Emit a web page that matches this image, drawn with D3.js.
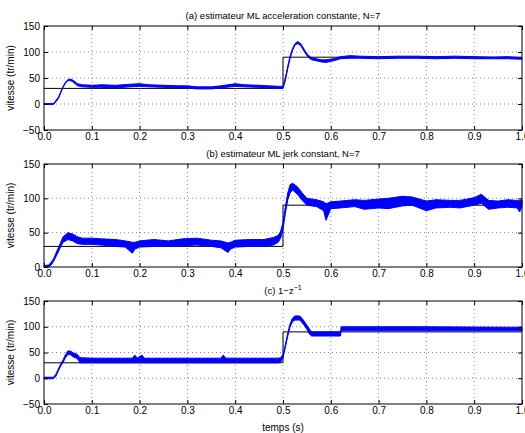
<!DOCTYPE html>
<html>
<head>
<meta charset="utf-8">
<script src="https://d3js.org/d3.v7.min.js"></script>
<style>
  body { margin: 0; background: #fff; }
  text { font-family: "Liberation Sans", Arial, sans-serif; fill: #000; }
  .grid line { stroke: #888; stroke-dasharray: 1,3; stroke-width: 1; }
  .tick text { font-size: 10px; }
</style>
</head>
<body>
<div id="chartDiv"></div>
<script>
// reference speed (consigne)
var refT = [0, 0.5, 0.5, 1];
var refV = [30, 30, 90, 90];

// (a) ML constant acceleration : time, lower and upper edge of the noisy trace
var tA  = [0, 0.02, 0.03, 0.04, 0.045, 0.05, 0.055, 0.06, 0.065, 0.07, 0.08, 0.1, 0.12, 0.15, 0.18, 0.2, 0.22, 0.25, 0.28, 0.3, 0.32, 0.35, 0.37, 0.4, 0.42, 0.45, 0.47, 0.49, 0.5, 0.505, 0.51, 0.515, 0.52, 0.525, 0.53, 0.535, 0.54, 0.545, 0.55, 0.555, 0.56, 0.57, 0.58, 0.59, 0.6, 0.61, 0.62, 0.64, 0.66, 0.7, 0.74, 0.78, 0.82, 0.86, 0.9, 0.94, 0.97, 1.0];
var loA = [-1, -1, 10, 32, 40, 45, 45, 43, 39, 35, 33, 32, 32, 31, 33, 34, 33, 32, 31, 31, 29, 29, 31, 34, 33, 32, 31, 30, 30, 45, 68, 88, 103, 113, 116, 114, 108, 100, 93, 88, 85, 83, 81, 80, 82, 84, 87, 88, 88, 87, 88, 88, 87, 88, 87, 87, 87, 86];
var hiA = [1, 1, 13, 34, 42, 47, 48, 46, 43, 39, 37, 36, 37, 36, 38, 39, 37, 36, 35, 35, 33, 33, 35, 39, 37, 36, 35, 34, 34, 51, 73, 93, 107, 116, 120, 118, 112, 104, 97, 92, 89, 87, 85, 85, 86, 88, 91, 93, 92, 91, 92, 92, 91, 92, 91, 90, 91, 89];

// (b) ML constant jerk
var tB  = [0, 0.01, 0.015, 0.02, 0.03, 0.035, 0.04, 0.05, 0.06, 0.07, 0.08, 0.1, 0.12, 0.15, 0.17, 0.185, 0.19, 0.2, 0.23, 0.26, 0.29, 0.32, 0.35, 0.37, 0.385, 0.39, 0.4, 0.43, 0.46, 0.48, 0.49, 0.495, 0.5, 0.505, 0.51, 0.515, 0.52, 0.53, 0.54, 0.55, 0.57, 0.585, 0.59, 0.6, 0.62, 0.65, 0.67, 0.7, 0.72, 0.75, 0.77, 0.8, 0.82, 0.85, 0.87, 0.9, 0.915, 0.93, 0.95, 0.97, 0.99, 0.995, 1.0];
var loB = [0, 0, 3, 8, 22, 30, 36, 40, 38, 34, 33, 33, 32, 30, 29, 20, 26, 29, 30, 30, 31, 32, 30, 28, 21, 26, 29, 30, 30, 32, 36, 42, 55, 78, 98, 108, 112, 106, 97, 90, 88, 82, 68, 85, 86, 88, 84, 86, 85, 89, 90, 82, 86, 87, 86, 90, 93, 84, 86, 87, 86, 80, 88];
var hiB = [2, 3, 7, 12, 28, 36, 44, 50, 48, 44, 42, 42, 41, 40, 38, 36, 36, 38, 40, 38, 41, 42, 39, 38, 35, 36, 39, 40, 40, 43, 46, 52, 65, 88, 108, 120, 122, 117, 108, 100, 98, 95, 92, 95, 96, 98, 97, 99, 100, 103, 102, 96, 98, 97, 97, 101, 106, 97, 96, 98, 97, 97, 98];

// (c) 1 - z^-1
var tC  = [0, 0.02, 0.025, 0.03, 0.035, 0.04, 0.045, 0.05, 0.055, 0.06, 0.065, 0.07, 0.075, 0.1, 0.185, 0.19, 0.195, 0.205, 0.21, 0.3, 0.37, 0.375, 0.38, 0.49, 0.495, 0.5, 0.505, 0.51, 0.515, 0.52, 0.525, 0.535, 0.54, 0.545, 0.55, 0.555, 0.56, 0.62, 0.622, 0.8, 1.0];
var loC = [-1, -1, 4, 14, 24, 31, 40, 46, 46, 42, 40, 38, 30, 30, 30, 30, 30, 30, 30, 30, 30, 30, 30, 30, 31, 40, 60, 82, 100, 110, 113, 113, 108, 102, 95, 86, 82, 82, 92, 92, 92];
var hiC = [2, 2, 8, 18, 28, 36, 46, 53, 53, 50, 48, 46, 40, 39, 39, 45, 39, 45, 39, 39, 39, 45, 39, 39, 40, 46, 66, 88, 106, 117, 121, 121, 116, 110, 103, 96, 90, 90, 100, 100, 99];

var xTicks = [0, 0.1, 0.2, 0.3, 0.4, 0.5, 0.6, 0.7, 0.8, 0.9, 1];

var panels = [
  { title: "(a) estimateur ML acceleration constante, N=7", t: tA, lo: loA, hi: hiA, yDomain: [-50, 150], yTicks: [-50, 0, 50, 100, 150], top: 26, bottom: 130 },
  { title: "(b) estimateur ML jerk constant, N=7", t: tB, lo: loB, hi: hiB, yDomain: [0, 150], yTicks: [0, 50, 100, 150], top: 164, bottom: 267 },
  { title: "(c) 1\u2212z", sup: "\u22121", t: tC, lo: loC, hi: hiC, yDomain: [-50, 150], yTicks: [-50, 0, 50, 100, 150], top: 301, bottom: 404 }
];

var width = 525, height = 433;
var left = 44, right = 522;

var svg = d3.select('#chartDiv').append('svg')
  .attr('width', width)
  .attr('height', height);

var x = d3.scaleLinear().domain([0, 1]).range([left, right]);

panels.forEach(function(p, k) {
  var y = d3.scaleLinear().domain(p.yDomain).range([p.bottom, p.top]);
  var g = svg.append('g');

  // grid
  var grid = g.append('g').attr('class', 'grid');
  grid.selectAll('.vx').data(xTicks.slice(1, -1)).enter().append('line')
    .attr('x1', function(d) { return x(d); }).attr('x2', function(d) { return x(d); })
    .attr('y1', p.top).attr('y2', p.bottom);
  grid.selectAll('.hy').data(p.yTicks.slice(1, -1)).enter().append('line')
    .attr('x1', left).attr('x2', right)
    .attr('y1', function(d) { return y(d); }).attr('y2', function(d) { return y(d); });

  // reference step
  var refLine = d3.line().x(function(d, i) { return x(refT[i]); }).y(function(d) { return y(d); });
  g.append('path').datum(refV)
    .attr('d', refLine)
    .attr('fill', 'none')
    .attr('stroke', '#000')
    .attr('stroke-width', 1);

  // measured speed, drawn as the band its noise covers
  var band = d3.area()
    .x(function(d, i) { return x(p.t[i]); })
    .y0(function(d, i) { return y(p.lo[i]); })
    .y1(function(d, i) { return y(p.hi[i]); });
  g.append('path').datum(p.t)
    .attr('d', band)
    .attr('fill', '#0000ff')
    .attr('stroke', '#0000ff')
    .attr('stroke-width', 1)
    .attr('stroke-linejoin', 'round');

  // axes with inward ticks on all four sides
  var ax = g.append('g').attr('transform', 'translate(0,' + p.bottom + ')')
    .call(d3.axisBottom(x).tickValues(xTicks).tickSizeInner(-4).tickSizeOuter(0).tickPadding(3));
  var ay = g.append('g').attr('transform', 'translate(' + left + ',0)')
    .call(d3.axisLeft(y).tickValues(p.yTicks).tickSizeInner(-4).tickSizeOuter(0).tickPadding(4));
  var at = g.append('g').attr('transform', 'translate(0,' + p.top + ')')
    .call(d3.axisTop(x).tickValues(xTicks).tickSizeInner(-4).tickSizeOuter(0).tickFormat(''));
  var ar = g.append('g').attr('transform', 'translate(' + right + ',0)')
    .call(d3.axisRight(y).tickValues(p.yTicks).tickSizeInner(-4).tickSizeOuter(0).tickFormat(''));
  [ax, ay, at, ar].forEach(function(a) {
    a.select('.domain').remove();
    a.selectAll('.tick line').attr('stroke', '#000');
    a.selectAll('.tick text').attr('fill', '#000').style('font-size', '10px');
  });

  // box
  g.append('rect')
    .attr('x', left).attr('y', p.top)
    .attr('width', right - left).attr('height', p.bottom - p.top)
    .attr('fill', 'none').attr('stroke', '#000').attr('stroke-width', 1);

  // title
  var title = g.append('text')
    .attr('x', (left + right) / 2)
    .attr('y', p.top - 7)
    .style('text-anchor', 'middle')
    .style('font-size', '9.5px')
    .text(p.title);
  if (p.sup) {
    title.append('tspan').attr('dy', -4).style('font-size', '7px').text(p.sup);
  }

  // y label
  g.append('text')
    .attr('transform', 'translate(14,' + ((p.top + p.bottom) / 2) + ') rotate(-90)')
    .style('text-anchor', 'middle')
    .style('font-size', '10px')
    .text('vitesse (tr/min)');
});

svg.append('text')
  .attr('x', (left + right) / 2)
  .attr('y', 431)
  .style('text-anchor', 'middle')
  .style('font-size', '10px')
  .text('temps (s)');
</script>
</body>
</html>
